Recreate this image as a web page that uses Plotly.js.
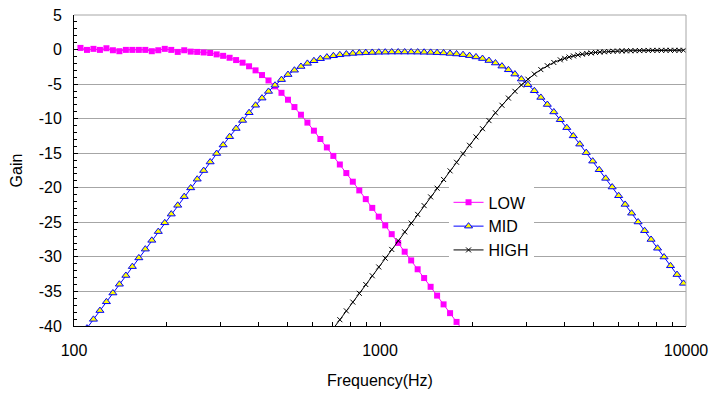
<!DOCTYPE html>
<html>
<head>
<meta charset="utf-8">
<script src="https://cdn.plot.ly/plotly-3.0.1.min.js"></script>
<style>
html,body{margin:0;padding:0;background:#fff;}
#chart{width:720px;height:395px;}
</style>
</head>
<body>
<div id="chart"></div>
<script>
// Frequency grid (Hz)
const freq = [100, 105, 110.25, 115.76, 121.55, 127.63, 134.01, 140.71, 147.75, 155.13,
  162.89, 171.03, 179.59, 188.56, 197.99, 207.89, 218.29, 229.2, 240.66, 252.7,
  265.33, 278.6, 292.53, 307.15, 322.51, 338.64, 355.57, 373.35, 392.01, 411.61,
  432.19, 453.8, 476.49, 500.32, 525.33, 551.6, 579.18, 608.14, 638.55, 670.48,
  704, 739.2, 776.16, 814.97, 855.72, 898.5, 943.43, 990.6, 1040.13, 1092.13,
  1146.74, 1204.08, 1264.28, 1327.49, 1393.87, 1463.56, 1536.74, 1613.58, 1694.26, 1778.97,
  1867.92, 1961.32, 2059.38, 2162.35, 2270.47, 2383.99, 2503.19, 2628.35, 2759.77, 2897.76,
  3042.65, 3194.78, 3354.52, 3522.25, 3698.36, 3883.27, 4077.44, 4281.31, 4495.37, 4720.14,
  4956.15, 5203.96, 5464.16, 5737.37, 6024.24, 6325.45, 6641.72, 6973.81, 7322.5, 7688.62,
  8073.05, 8476.71, 8900.54, 9345.57, 9812.85];

// Extra (denser) frequencies of the HIGH series above ~3.9 kHz
const freqHighFine = [4014.0, 4149.2, 4288.9, 4433.3, 4582.5, 4736.8, 4896.3, 5061.2, 5231.6, 5407.7,
  5589.8, 5778.0, 5972.6, 6173.7, 6381.6, 6596.4, 6818.5, 7048.1, 7285.4, 7530.7,
  7784.3, 8046.4, 8317.3, 8597.3, 8886.8, 9186.0, 9495.3, 9815.0];

// Gains (dB)
const lowGain = [0.24, -0.05, 0.10, -0.05, 0.19, -0.10, -0.24, -0.05, -0.05, -0.05,
  -0.05, -0.24, -0.10, 0.10, -0.05, -0.34, -0.10, -0.30, -0.34, -0.42,
  -0.50, -0.70, -0.91, -1.19, -1.52, -1.90, -2.42, -3.01, -3.69, -4.47,
  -5.32, -6.26, -7.26, -8.32, -9.43, -10.57, -11.74, -12.94, -14.16, -15.39,
  -16.63, -17.87, -19.12, -20.38, -21.64, -22.91, -24.18, -25.44, -26.71, -27.98,
  -29.25, -30.51, -31.79, -33.06, -34.33, -35.60, -36.87, -38.14, -39.41, -40.69];

const midGain = [-40.31, -39.04, -37.77, -36.50, -35.23, -33.96, -32.69, -31.41, -30.15, -28.88,
  -27.61, -26.34, -25.07, -23.81, -22.54, -21.28, -20.02, -18.76, -17.51, -16.27,
  -15.04, -13.81, -12.61, -11.42, -10.26, -9.14, -8.06, -7.03, -6.06, -5.16,
  -4.35, -3.62, -2.99, -2.45, -2.00, -1.62, -1.32, -1.09, -0.90, -0.76,
  -0.65, -0.56, -0.50, -0.45, -0.42, -0.39, -0.38, -0.36, -0.36, -0.36,
  -0.36, -0.37, -0.39, -0.41, -0.45, -0.49, -0.56, -0.64, -0.74, -0.88,
  -1.07, -1.30, -1.59, -1.95, -2.40, -2.93, -3.55, -4.27, -5.08, -5.96,
  -6.93, -7.95, -9.03, -10.15, -11.30, -12.49, -13.69, -14.91, -16.15, -17.39,
  -18.64, -19.89, -21.15, -22.41, -23.68, -24.95, -26.21, -27.48, -28.75, -30.02,
  -31.29, -32.56, -33.83];

const highGain = [-40.36, -39.09, -37.81, -36.54, -35.27, -34.00, -32.73, -31.46, -30.19, -28.92,
  -27.65, -26.38, -25.11, -23.85, -22.58, -21.32, -20.06, -18.80, -17.55, -16.31,
  -15.07, -13.85, -12.64, -11.45, -10.28, -9.15, -8.06, -7.02, -6.04, -5.13,
  -4.29, -3.55, -2.90, -2.34, -1.87, -1.49,
  -1.27, -1.08, -0.92, -0.78, -0.67, -0.57, -0.49, -0.42, -0.37, -0.32,
  -0.28, -0.25, -0.22, -0.20, -0.18, -0.17, -0.16, -0.15, -0.14, -0.13,
  -0.12, -0.12, -0.12, -0.11, -0.11, -0.11, -0.11, -0.10];

const seriesNames = ['LOW', 'MID', 'HIGH'];
const xTickVals = [100, 1000, 10000];
const xTickText = ['100', '1000', '10000'];
const yTickVals = [5, 0, -5, -10, -15, -20, -25, -30, -35, -40];
const yTickText = ['5', '0', '-5', '-10', '-15', '-20', '-25', '-30', '-35', '-40'];

const freqLow = freq.slice(1, 1 + lowGain.length);
const freqMid = freq.slice(2, 2 + midGain.length);
const freqHigh = freq.slice(40, 76).concat(freqHighFine);

const FONT = 'Liberation Sans, Arial, sans-serif';

const traces = [
  {
    x: freqLow, y: lowGain, name: seriesNames[0], type: 'scatter', mode: 'lines+markers',
    legendgroup: 'a',
    line: {color: '#FF00FF', width: 1},
    marker: {symbol: 'square', size: 6, color: '#FF00FF', line: {width: 0}}
  },
  {
    x: freqMid, y: midGain, name: seriesNames[1], type: 'scatter', mode: 'lines+markers',
    legendgroup: 'b',
    line: {color: '#0000FF', width: 1},
    marker: {symbol: 'triangle-up', size: 7, color: '#FFFF00', line: {color: '#0000FF', width: 1}}
  },
  {
    x: freqHigh, y: highGain, name: seriesNames[2], type: 'scatter', mode: 'lines+markers',
    legendgroup: 'c',
    line: {color: '#000000', width: 1},
    marker: {symbol: 'x-thin', size: 5, color: '#000000', line: {color: '#000000', width: 1}}
  }
];

const layout = {
  width: 720, height: 395,
  margin: {l: 74, r: 34, t: 15, b: 69, pad: 0},
  paper_bgcolor: '#ffffff', plot_bgcolor: '#ffffff',
  font: {family: FONT, size: 16, color: '#000000'},
  showlegend: true,
  legend: {
    x: 0.612, y: 0.452, xanchor: 'left', yanchor: 'top',
    bgcolor: '#ffffff', borderwidth: 0,
    font: {family: FONT, size: 16, color: '#000000'},
    tracegroupgap: 0
  },
  xaxis: {
    type: 'log', range: [2, 4],
    tickvals: xTickVals, ticktext: xTickText,
    ticks: 'inside', ticklen: 4, tickcolor: '#000', tickwidth: 1,
    showgrid: false, zeroline: false,
    showline: true, linecolor: '#000000', linewidth: 1,
    tickfont: {family: FONT, size: 16},
    ticklabelstandoff: 10,
    minor: {ticks: 'inside', ticklen: 4, tickcolor: '#000', dtick: 'D1', showgrid: false},
    title: {text: 'Frequency(Hz)', font: {family: FONT, size: 16}, standoff: 16},
    automargin: false, fixedrange: true
  },
  yaxis: {
    range: [-40, 5],
    tickvals: yTickVals, ticktext: yTickText,
    ticks: 'inside', ticklen: 4, tickcolor: '#000', tickwidth: 1,
    showgrid: true, gridcolor: '#a6a6a6', gridwidth: 1,
    zeroline: false,
    showline: true, linecolor: '#000000', linewidth: 1,
    tickfont: {family: FONT, size: 16},
    ticklabelstandoff: 8,
    minor: {ticks: 'inside', ticklen: 3, tickcolor: '#000', dtick: 1, showgrid: false},
    title: {text: 'Gain', font: {family: FONT, size: 16}, standoff: 12},
    automargin: false, fixedrange: true
  },
  shapes: [
    {type: 'line', xref: 'paper', yref: 'paper', x0: 1, x1: 1, y0: 0, y1: 1,
     line: {color: '#a6a6a6', width: 1}},
    {type: 'line', xref: 'paper', yref: 'paper', x0: 0, x1: 1, y0: 1, y1: 1,
     line: {color: '#a6a6a6', width: 1}}
  ],
  hovermode: false
};

Plotly.newPlot('chart', traces, layout, {displayModeBar: false, staticPlot: true});
</script>
</body>
</html>
